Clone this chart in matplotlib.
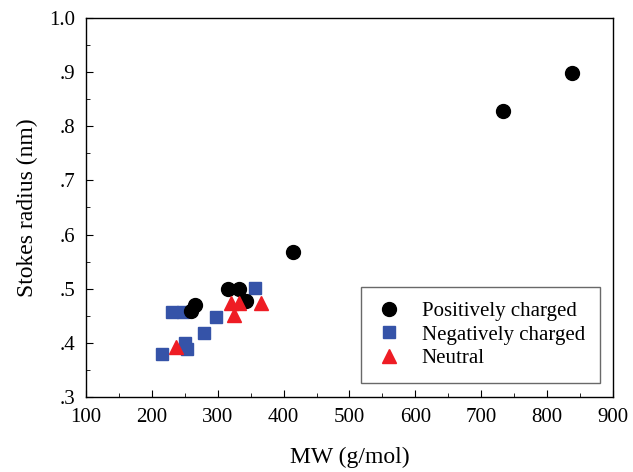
import matplotlib
matplotlib.use("Agg")
import matplotlib.pyplot as plt
from matplotlib.ticker import MultipleLocator, FuncFormatter

plt.rcParams['font.family'] = ['Liberation Serif', 'DejaVu Serif']

pos_mw = [260, 266, 315, 332, 343, 415, 734, 838]
pos_r = [0.458, 0.469, 0.50, 0.50, 0.478, 0.568, 0.829, 0.899]
neg_mw = [231, 247, 215, 251, 254, 279, 297, 357]
neg_r = [0.457, 0.457, 0.379, 0.399, 0.388, 0.418, 0.448, 0.502]
neu_mw = [236, 320, 332, 324, 365]
neu_r = [0.393, 0.473, 0.473, 0.452, 0.473]

fig = plt.figure(figsize=(6.33, 4.72), dpi=100)
ax = fig.add_axes([0.136, 0.159, 0.832, 0.803])

ax.plot(pos_mw, pos_r, 'o', color='black', markersize=10, label='Positively charged', zorder=3)
ax.plot(neg_mw, neg_r, 's', color='#3553a8', markersize=8, label='Negatively charged', zorder=2)
ax.plot(neu_mw, neu_r, '^', color='#ee1c24', markersize=10, label='Neutral', zorder=4)

ax.set_xlim(100, 900)
ax.set_ylim(0.3, 1.0)
ax.xaxis.set_major_locator(MultipleLocator(100))
ax.xaxis.set_minor_locator(MultipleLocator(50))
ax.yaxis.set_major_locator(MultipleLocator(0.1))
ax.yaxis.set_minor_locator(MultipleLocator(0.05))

def yfmt(v, p):
    if abs(v - 1.0) < 1e-6:
        return '1.0'
    return ('%.1f' % v).lstrip('0')
ax.yaxis.set_major_formatter(FuncFormatter(yfmt))

ax.tick_params(which='both', direction='in', top=False, right=False, labelsize=15)
ax.tick_params(which='major', length=5, pad=8)
ax.tick_params(which='minor', length=3)
for s in ax.spines.values():
    s.set_linewidth(1.0)

ax.set_xlabel('MW (g/mol)', fontsize=17, labelpad=14)
ax.set_ylabel('Stokes radius (nm)', fontsize=17, labelpad=8)

leg = ax.legend(loc='lower right', bbox_to_anchor=(0.975, 0.037), fontsize=15, frameon=True,
                fancybox=False, edgecolor='#444444', borderpad=0.7, handletextpad=0.9,
                labelspacing=0.2, handlelength=1.3, borderaxespad=0)
leg.get_frame().set_linewidth(1.0)

fig.savefig('out.png', dpi=100)
